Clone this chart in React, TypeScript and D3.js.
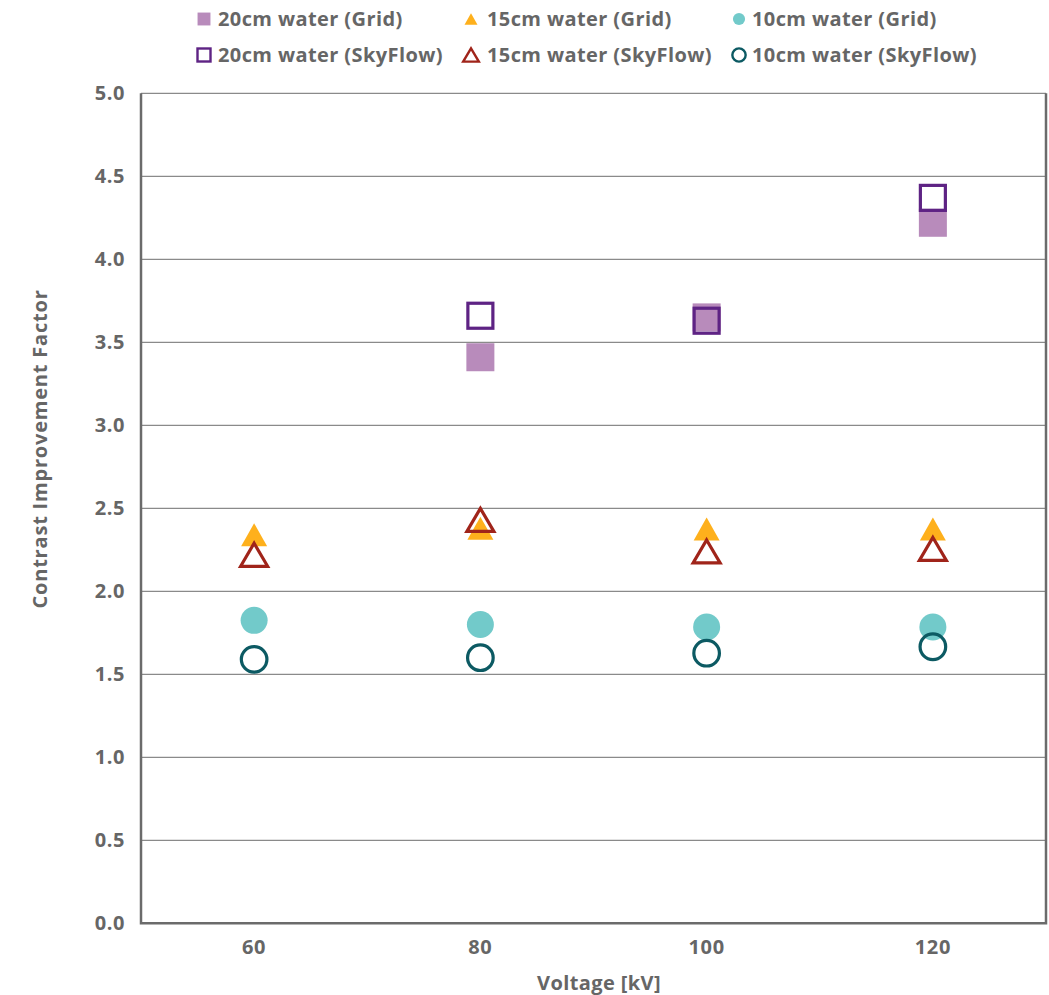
import React from "react";
import * as d3 from "d3";

const voltages = [60, 80, 100, 120];
const grid20 = [null, 3.41, 3.65, 4.22];
const sky20 = [null, 3.66, 3.63, 4.37];
const grid15 = [2.34, 2.38, 2.375, 2.375];
const sky15 = [2.22, 2.43, 2.24, 2.255];
const grid10 = [1.825, 1.8, 1.785, 1.785];
const sky10 = [1.59, 1.6, 1.627, 1.666];
const yTicks = [0, 0.5, 1, 1.5, 2, 2.5, 3, 3.5, 4, 4.5, 5];
const xTicks = [60, 80, 100, 120];

const W = 1049;
const H = 995;
const M = { left: 141, right: 1046, top: 93.3, bottom: 923.3 };
const FONT = "'Open Sans', Lato, sans-serif";
const TXT = "#666666";

type Kind = "sqF" | "sqO" | "triF" | "triO" | "cirF" | "cirO";

function Marker({ kind, x, y, color, scale = 1 }: { kind: Kind; x: number; y: number; color: string; scale?: number }) {
  const s = scale;
  const sw = 3.2 * Math.max(s, 0.75);
  switch (kind) {
    case "sqF":
      return <rect x={x - 14 * s} y={y - 14 * s} width={28 * s} height={28 * s} fill={color} />;
    case "sqO":
      return <rect x={x - 12.5 * s} y={y - 12.5 * s} width={25 * s} height={25 * s} fill="none" stroke={color} strokeWidth={sw} />;
    case "triF": {
      const w = 26 * s, h = 23 * s;
      return <path d={`M${x},${y - h / 2}L${x + w / 2},${y + h / 2}L${x - w / 2},${y + h / 2}Z`} fill={color} />;
    }
    case "triO": {
      const w = 27 * s, h = 23 * s;
      return <path d={`M${x},${y - h / 2}L${x + w / 2},${y + h / 2}L${x - w / 2},${y + h / 2}Z`} fill="none" stroke={color} strokeWidth={sw} />;
    }
    case "cirF":
      return <circle cx={x} cy={y} r={13.5 * s} fill={color} />;
    case "cirO":
      return <circle cx={x} cy={y} r={12.8 * s} fill="none" stroke={color} strokeWidth={sw} />;
  }
}

const series: { name: string; values: (number | null)[]; kind: Kind; color: string }[] = [
  { name: "20cm water (Grid)", values: grid20, kind: "sqF", color: "#B88BBB" },
  { name: "15cm water (Grid)", values: grid15, kind: "triF", color: "#FEB01C" },
  { name: "10cm water (Grid)", values: grid10, kind: "cirF", color: "#72CACA" },
  { name: "20cm water (SkyFlow)", values: sky20, kind: "sqO", color: "#5E2384" },
  { name: "15cm water (SkyFlow)", values: sky15, kind: "triO", color: "#A0241A" },
  { name: "10cm water (SkyFlow)", values: sky10, kind: "cirO", color: "#0C5A63" },
];

const legendPos = [
  { mx: 204, tx: 218, y: 19, ms: 0.46 },
  { mx: 471, tx: 487, y: 19, ms: 0.5 },
  { mx: 739, tx: 752, y: 19, ms: 0.45 },
  { mx: 204, tx: 218, y: 55, ms: 0.52 },
  { mx: 471, tx: 487, y: 55, ms: 0.58 },
  { mx: 739, tx: 752, y: 55, ms: 0.52 },
];

export default function App() {
  const x = d3.scaleLinear().domain([50, 130]).range([M.left, M.right]);
  const y = d3.scaleLinear().domain([0, 5]).range([M.bottom, M.top]);

  const txt = { fontFamily: FONT, fontWeight: 700, fontSize: 20, fill: TXT };

  return (
    <svg width={W} height={H} style={{ display: "block", position: "absolute", left: 0, top: 0 }}>
      <rect width={W} height={H} fill="#fff" />
      {yTicks.map((t) => (
        <g key={t}>
          {t > 0 && <line x1={M.left} x2={M.right} y1={y(t)} y2={y(t)} stroke="#8a8a8a" strokeWidth={1.2} />}
          <text x={125} y={y(t)} dy="0.35em" textAnchor="end" {...txt} letterSpacing={0.6}>
            {d3.format(".1f")(t)}
          </text>
        </g>
      ))}
      <path d={`M${M.left},${M.top}V${M.bottom}H${M.right}V${M.top}`} fill="none" stroke="#6b6b6b" strokeWidth={2.5} />
      {xTicks.map((t) => (
        <text key={t} x={x(t)} y={954} textAnchor="middle" {...txt} letterSpacing={0.6}>
          {t}
        </text>
      ))}
      <text x={599} y={990} textAnchor="middle" {...txt} letterSpacing={0.4}>
        Voltage [kV]
      </text>
      <text transform={`translate(47,449) rotate(-90)`} textAnchor="middle" {...txt} letterSpacing={0.8}>
        Contrast Improvement Factor
      </text>
      {series.map((s) =>
        s.values.map((v, i) =>
          v == null ? null : <Marker key={s.name + i} kind={s.kind} x={x(voltages[i])} y={y(v)} color={s.color} />
        )
      )}
      {series.map((s, i) => {
        const p = legendPos[i];
        return (
          <g key={s.name}>
            <Marker kind={s.kind} x={p.mx} y={p.y} color={s.color} scale={p.ms} />
            <text x={p.tx} y={p.y} dy="0.35em" {...txt} letterSpacing={0.4}>
              {s.name}
            </text>
          </g>
        );
      })}
    </svg>
  );
}
